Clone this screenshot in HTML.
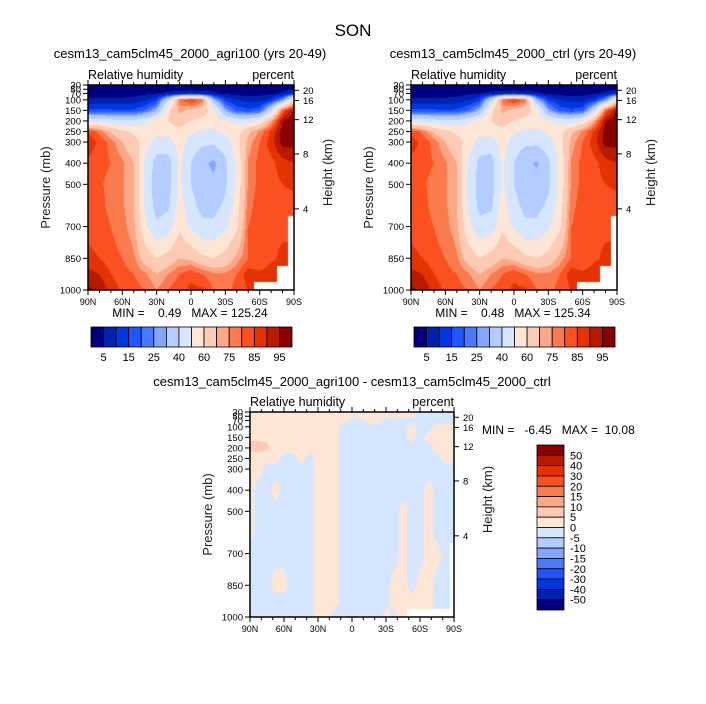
<!DOCTYPE html>
<html><head><meta charset="utf-8">
<style>
html,body{margin:0;padding:0;background:#fff;}
#root{position:relative;width:706px;height:704px;overflow:hidden;font-family:"Liberation Sans",sans-serif;color:#000;}
svg{position:absolute;left:0;top:0;}
canvas{position:absolute;}
</style></head>
<body>
<div id="root">
<canvas id="c1"></canvas>
<canvas id="c2"></canvas>
<canvas id="c3"></canvas>
<svg id="svg" width="706" height="704"></svg>
</div>
<script>
// ---- data ----
const pLevels = [30,50,70,100,150,200,250,300,400,500,600,700,850,925,1000];
const rhLevels = [5,10,15,20,25,30,40,50,60,70,75,80,85,90,95];
const rhTickLabels = ["5","15","25","40","60","75","85","95"];
const diffLevels = [-50,-40,-30,-20,-15,-10,-5,0,5,10,15,20,30,40,50];
const diffTickLabels = ["50","40","30","20","15","10","5","0","-5","-10","-15","-20","-30","-40","-50"];
const latTickLabels = ["90N","60N","30N","0","30S","60S","90S"];
const pTickLabels = [30,50,70,100,150,200,250,300,400,500,700,850,1000];
const heightTickLabels = [4,8,12,16,20];
const heightTickPressures = [616,356,194,103,55];
const colors16 = ["#00007f","#0022b0","#0037e0","#1f55ff","#4a7aff","#84a6ff","#b4ccff","#d6e6ff","#fde6d6","#fdcbb3","#fca886","#fb7a4e","#fb5020","#e43200","#b81a00","#880000"];
const agriRH = [
[1,1,1,1,1,1,1,1,1,1,1,1,1,1,1,1,1,1,2],
[2,2,2,2,2,2,2,3,3,3,3,3,2,2,2,2,2,3,4],
[3,3,3,3,3,4,5,6,8,10,8,6,4,3,3,3,4,6,12],
[6,6,6,6,7,9,14,40,78,86,78,30,14,10,8,8,12,25,60],
[16,16,16,15,16,20,30,58,72,68,65,55,28,18,16,18,40,80,96],
[46,46,44,42,42,48,54,60,64,60,57,55,52,47,45,52,72,95,100],
[85,78,68,62,58,55,54,56,58,52,48,48,52,56,68,76,86,97,100],
[88,84,78,70,64,55,45,45,55,45,42,42,46,55,72,80,88,97,97],
[84,82,80,76,70,48,36,36,52,40,32,28,38,52,76,82,83,88,90],
[82,81,78,76,70,47,35,35,52,40,34,32,38,52,76,82,83,85,86],
[83,82,78,76,70,48,36,38,55,43,37,37,42,55,78,83,84,83,83],
[84,83,80,77,72,52,42,45,58,48,42,42,48,58,80,83,84,84,null],
[86,85,82,80,76,66,60,64,70,68,62,60,64,72,80,80,84,86,null],
[92,90,85,82,80,76,70,75,80,84,80,76,76,80,88,86,88,null,null],
[96,94,88,84,82,80,75,80,84,86,86,80,78,82,85,null,null,null,null]];
const ctrlRH = [
[1,1,1,1,1,1,1,1,1,1,1,1,1,1,1,1,1,1,2],
[2,2,2,2,2,2,2,3,3,3,3,3,2,2,2,2,2,3,4],
[3,3,3,3,3,4,5,6,8,10,8,6,4,3,3,3,4,6,12],
[6,6,6,6,7,9,14,40,78,86,78,30,14,10,8,8,12,25,60],
[16,16,16,15,16,20,30,58,72,68,65,55,28,18,16,18,40,80,96],
[46,46,44,42,42,48,54,60,64,60,57,55,52,47,45,52,72,95,100],
[84,78,68,62,58,55,54,56,58,52,48,48,52,56,68,76,86,97,100],
[87,84,78,70,64,56,46,45,55,45,42,42,46,55,72,80,88,97,97],
[84,82,80,76,70,49,37,36,52,40,32,29,38,52,76,82,83,88,90],
[82,81,78,76,70,48,36,35,52,40,34,33,38,52,76,82,83,85,86],
[83,82,78,76,70,49,37,38,55,43,37,37,42,55,78,83,84,83,83],
[84,83,80,77,72,53,43,45,58,48,42,42,48,58,80,83,84,84,null],
[86,85,82,80,76,66,60,64,70,68,62,60,64,72,80,80,84,86,null],
[92,90,85,82,80,76,70,75,80,84,80,76,76,80,88,86,88,null,null],
[96,94,88,84,82,80,75,80,84,86,86,80,78,82,85,null,null,null,null]];
const diffRH = [
[2,2,2,2,2,2,2,2,2,2,2,2,2,2,2,2,2,2,2,2,-2,-2,2,-2,-2],
[2,2,2,2,2,2,2,2,2,2,2,2,2,2,2,2,2,2,2,2,-2,-2,-2,-2,-2],
[2,2,2,2,2,2,2,2,2,2,2,2,-2,-2,2,2,-2,-2,-2,-2,-2,-2,-2,-2,-2],
[2,2,2,2,2,2,2,2,2,2,2,-2,-2,-2,-2,-2,-2,-2,-2,2,-2,-2,2,2,2],
[4,4,4,2,2,2,2,2,2,2,2,-2,-2,-2,-2,-2,-2,-2,-2,2,-2,2,2,2,2],
[7,7,6,2,2,2,2,2,2,2,2,-2,-2,-2,-2,-2,-2,-2,-2,-2,-2,-2,2,2,2],
[2,2,2,2,-2,-2,2,-2,2,2,2,-2,-2,-2,-2,-2,-2,-2,-2,-2,-2,-2,-2,2,2],
[2,2,-2,-2,-2,-2,-2,-2,2,2,2,-2,-2,-2,-2,-2,-2,-2,-2,-2,-2,-2,-2,-2,-2],
[2,-2,-2,2,-2,-2,-2,-2,2,2,2,-2,-2,-2,-2,-2,-2,-2,-2,-2,-2,2,-2,-2,-2],
[2,-2,-2,-2,-2,-2,-2,-2,2,2,2,-2,-2,-2,-2,-2,-2,-2,2,-2,-2,2,-2,-2,-2],
[2,-2,-2,-2,-2,-2,-2,-2,2,2,2,-2,-2,-2,-2,-2,-2,-2,2,-2,-2,2,-2,-2,-2],
[-2,-2,-2,-2,-2,-2,-2,-2,2,2,2,-2,-2,-2,-2,-2,-2,-2,2,-2,-2,2,2,-2,null],
[-2,-2,-2,2,2,-2,-2,-2,2,2,2,-2,-2,-2,-2,-2,-2,2,2,-2,2,2,-2,-2,null],
[-2,-2,-2,-2,-2,-2,-2,-2,2,2,2,-2,-2,-2,-2,-2,-2,2,2,2,2,2,-2,-2,null],
[-2,-2,-2,-2,-2,-2,-2,-2,2,2,-2,-2,-2,-2,-2,-2,2,-2,2,null,null,null,null,null,null]];

// ---- helpers ----
const NS="http://www.w3.org/2000/svg";
const svg=document.getElementById('svg');
function mk(tag,attrs,parent){const e=document.createElementNS(NS,tag);for(const k in attrs)e.setAttribute(k,attrs[k]);(parent||svg).appendChild(e);return e;}
function txt(x,y,s,size,anchor,name,extra){const t=mk('text',Object.assign({x:x,y:y,'font-size':size,'text-anchor':anchor||'start','font-family':'Liberation Sans, sans-serif'},extra||{}));t.textContent=s;


return t;}
function colorIndex(v,levels){let i=0;while(i<levels.length&&v>=levels[i])i++;return i;}
function hex(c){return [parseInt(c.substr(1,2),16),parseInt(c.substr(3,2),16),parseInt(c.substr(5,2),16)];}
function sample(grid,u,p){
  const nc=grid[0].length;let x=u*(nc-1);
  let r=0;while(r<pLevels.length-2&&p>pLevels[r+1])r++;
  let t=(p-pLevels[r])/(pLevels[r+1]-pLevels[r]);t=Math.max(0,Math.min(1,t));
  let c=Math.min(Math.floor(x),nc-2);let s=x-c;
  const nr=t<0.5?r:r+1,ncc=s<0.5?c:c+1;
  if(grid[nr][ncc]===null)return null;
  const pts=[[grid[r][c],(1-s)*(1-t)],[grid[r][c+1],s*(1-t)],[grid[r+1][c],(1-s)*t],[grid[r+1][c+1],s*t]];
  let sum=0,w=0;for(const[v,ww]of pts){if(v!==null){sum+=v*ww;w+=ww;}}
  return w>0?sum/w:null;
}
function drawField(id,grid,levels,px,py,pw,ph){
  const cv=document.getElementById(id);cv.width=pw;cv.height=ph;cv.style.left=px+'px';cv.style.top=py+'px';
  const ctx=cv.getContext('2d');const img=ctx.createImageData(pw,ph);const cols=colors16.map(hex);
  for(let j=0;j<ph;j++){const p=30+(j+0.5)/ph*970;
    for(let i=0;i<pw;i++){const v=sample(grid,(i+0.5)/pw,p);const k=(j*pw+i)*4;
      let c=[255,255,255];if(v!==null)c=cols[colorIndex(v,levels)];
      img.data[k]=c[0];img.data[k+1]=c[1];img.data[k+2]=c[2];img.data[k+3]=255;}}
  ctx.putImageData(img,0,0);
}
function axes(px,py,pw,ph,tag){
  const yOf=p=>py+(p-30)/970*ph;const xOf=f=>px+f*pw;
  mk('rect',{x:px,y:py,width:pw,height:ph,fill:'none',stroke:'#000','stroke-width':1.5,});
  for(let k=0;k<=18;k++){const x=xOf(k/18);const L=(k%3===0)?5:3;
    mk('line',{x1:x,y1:py+ph,x2:x,y2:py+ph+L,stroke:'#000',});
    mk('line',{x1:x,y1:py,x2:x,y2:py-L,stroke:'#000',});}
  latTickLabels.forEach((s,k)=>txt(xOf(k/6),py+ph+15,s,9,'middle',tag+'-x-tick-label'));
  pTickLabels.forEach(p=>{const y=yOf(p);
    mk('line',{x1:px,y1:y,x2:px-5,y2:y,stroke:'#000',});
    txt(px-7,y+3.5,String(p),9.5,'end',tag+'-y-tick-label');});
  heightTickLabels.forEach((h,k)=>{const y=yOf(heightTickPressures[k]);
    mk('line',{x1:px+pw,y1:y,x2:px+pw+5,y2:y,stroke:'#000',});
    txt(px+pw+9,y+3.5,String(h),9.5,'start',tag+'-height-tick-label');});
  txt(px-38,py+ph/2,'Pressure (mb)',13,'middle',tag+'-y-axis-title',{transform:`rotate(-90 ${px-38} ${py+ph/2})`,fill:'#222'});
  txt(px+pw+38,py+ph/2-15,'Height (km)',13,'middle',tag+'-height-axis-title',{transform:`rotate(-90 ${px+pw+38} ${py+ph/2-15})`,fill:'#222'});
  txt(px,py-6,'Relative humidity',12.5,'start',tag+'-variable-label');
  txt(px+pw,py-6,'percent',12.5,'end',tag+'-units-label');
}
function hbar(x0,y0,w,h,tag){const bw=w/16;
  colors16.forEach((c,i)=>mk('rect',{x:x0+i*bw,y:y0,width:bw,height:h,fill:c,stroke:'#000','stroke-width':0.8,}));
  rhTickLabels.forEach((s,k)=>txt(x0+(2*k+1)*bw,y0+h+14,s,11,'middle',tag+'-colorbar-label'));}

const P1={x:88,y:85,w:206,h:205},P2={x:411,y:85,w:206,h:205},P3={x:250,y:412,w:204,h:205};
drawField('c1',agriRH,rhLevels,P1.x,P1.y,P1.w,P1.h);
drawField('c2',ctrlRH,rhLevels,P2.x,P2.y,P2.w,P2.h);
drawField('c3',diffRH,diffLevels,P3.x,P3.y,P3.w,P3.h);
axes(P1.x,P1.y,P1.w,P1.h,'agri');
axes(P2.x,P2.y,P2.w,P2.h,'ctrl');
axes(P3.x,P3.y,P3.w,P3.h,'diff');
txt(353,36,'SON',17,'middle','main-title');
txt(190,58,'cesm13_cam5clm45_2000_agri100 (yrs 20-49)',13,'middle','agri-panel-title');
txt(513,58,'cesm13_cam5clm45_2000_ctrl (yrs 20-49)',13,'middle','ctrl-panel-title');
txt(352,386,'cesm13_cam5clm45_2000_agri100 - cesm13_cam5clm45_2000_ctrl',13,'middle','diff-panel-title');
txt(190,317,'MIN =    0.49   MAX = 125.24',12,'middle','agri-min-max',{style:'white-space:pre'});
txt(513,317,'MIN =    0.48   MAX = 125.34',12,'middle','ctrl-min-max',{style:'white-space:pre'});
txt(482,434,'MIN =   -6.45   MAX =  10.08',12,'start','diff-min-max',{style:'white-space:pre'});
hbar(91,327,201,20,'agri');
hbar(414,327,201,20,'ctrl');
(function(){const x0=537,y0=445,w=27,h=165,bh=h/16;
  colors16.slice().reverse().forEach((c,i)=>mk('rect',{x:x0,y:y0+i*bh,width:w,height:bh,fill:c,stroke:'#000','stroke-width':0.8,}));
  diffTickLabels.forEach((s,k)=>txt(x0+w+6,y0+(k+1)*bh+4,s,11,'start','diff-colorbar-label'));})();
</script>
</body></html>
